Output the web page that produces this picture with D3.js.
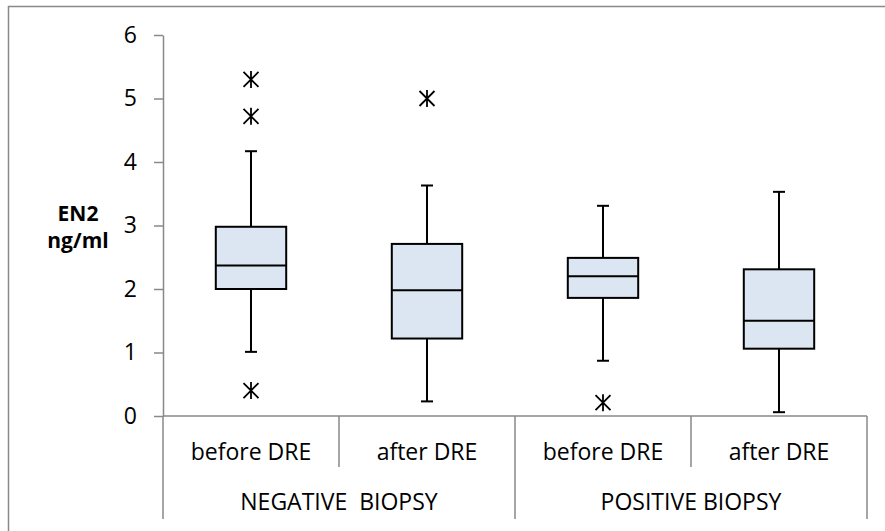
<!DOCTYPE html>
<html>
<head>
<meta charset="utf-8">
<script src="https://cdn.jsdelivr.net/npm/d3@7"></script>
<style>
  html, body { margin: 0; padding: 0; background: #fff; }
  svg { display: block; }
  text { font-family: "Open Sans", sans-serif; fill: #000; }
</style>
</head>
<body>
<svg id="chart" width="885" height="531"></svg>
<script>
// ---- data ----
const categories = ["before DRE", "after DRE", "before DRE", "after DRE"];
const groups = ["NEGATIVE  BIOPSY", "POSITIVE BIOPSY"];
const groupOf = [0, 0, 1, 1];
const whiskerLow  = [1.01, 0.23, 0.87, 0.06];
const q1          = [2.00, 1.22, 1.86, 1.06];
const median      = [2.37, 1.98, 2.20, 1.50];
const q3          = [2.98, 2.71, 2.49, 2.31];
const whiskerHigh = [4.17, 3.63, 3.31, 3.53];
const outliers    = [[5.30, 4.72, 0.40], [5.00], [0.21], []];
const yTicks = [0, 1, 2, 3, 4, 5, 6];
const yTitle = ["EN2", "ng/ml"];

// ---- layout ----
const svg = d3.select("#chart");
const axisColor = "#898989";
const fill = "#dce6f2";

svg.append("rect")
  .attr("x", 8.5).attr("y", 6.5)
  .attr("width", 900).attr("height", 540)
  .attr("fill", "none").attr("stroke", axisColor).attr("stroke-width", 1.5);

const idx = categories.map((d, i) => i);
const x = d3.scaleBand().domain(idx).range([163, 867]).paddingInner(0).paddingOuter(0);
const y = d3.scaleLinear().domain([0, 6]).range([416, 35]);

// y axis
const yAxis = svg.append("g")
  .attr("transform", "translate(163,0)")
  .call(d3.axisLeft(y).tickValues(yTicks).tickSize(9).tickSizeOuter(0).tickPadding(17).tickFormat(d3.format("d")));
yAxis.selectAll("path, line").attr("stroke", axisColor).attr("stroke-width", 1.5);
yAxis.selectAll("text").style("font-size", "23px").style("font-family", "'Open Sans', sans-serif").attr("fill", "#000");

// x axis line
svg.append("line")
  .attr("x1", x.range()[0]).attr("x2", x.range()[1])
  .attr("y1", y(0)).attr("y2", y(0))
  .attr("stroke", axisColor).attr("stroke-width", 1.5);

// dividers
const bounds = idx.map(i => x(i)).concat([x.range()[1]]);
bounds.forEach((bx, k) => {
  const isGroup = (k === 0 || k === bounds.length - 1 || groupOf[k] !== groupOf[k - 1]);
  svg.append("line")
    .attr("x1", bx).attr("x2", bx)
    .attr("y1", y(0)).attr("y2", isGroup ? 519 : 467)
    .attr("stroke", axisColor).attr("stroke-width", 1.5);
});

// category labels
svg.selectAll("text.cat").data(idx).enter().append("text")
  .attr("class", "cat")
  .attr("x", i => x(i) + x.bandwidth() / 2)
  .attr("y", 460)
  .attr("text-anchor", "middle")
  .style("font-size", "23px")
  .text(i => categories[i]);

// group labels
groups.forEach((g, gi) => {
  const members = idx.filter(i => groupOf[i] === gi);
  const x0 = x(members[0]);
  const x1 = x(members[members.length - 1]) + x.bandwidth();
  svg.append("text")
    .attr("x", (x0 + x1) / 2)
    .attr("y", 510)
    .attr("text-anchor", "middle")
    .style("font-size", "23px")
    .style("white-space", "pre")
    .attr("xml:space", "preserve")
    .text(g);
});

// y title
const t = svg.append("text")
  .attr("text-anchor", "middle")
  .style("font-size", "21px")
  .style("font-weight", "bold");
yTitle.forEach((line, k) => {
  t.append("tspan").attr("x", 78).attr("y", 221 + k * 27).text(line);
});

// boxes
const bw = x.bandwidth() * 0.4;
const capW = 12;
const boxes = svg.append("g");
idx.forEach(i => {
  const cx = x(i) + x.bandwidth() / 2;
  const g = boxes.append("g");
  // whiskers
  g.append("line").attr("x1", cx).attr("x2", cx)
    .attr("y1", y(q3[i])).attr("y2", y(whiskerHigh[i]))
    .attr("stroke", "#000").attr("stroke-width", 2);
  g.append("line").attr("x1", cx).attr("x2", cx)
    .attr("y1", y(q1[i])).attr("y2", y(whiskerLow[i]))
    .attr("stroke", "#000").attr("stroke-width", 2);
  g.append("line").attr("x1", cx - capW / 2).attr("x2", cx + capW / 2)
    .attr("y1", y(whiskerHigh[i])).attr("y2", y(whiskerHigh[i]))
    .attr("stroke", "#000").attr("stroke-width", 2);
  g.append("line").attr("x1", cx - capW / 2).attr("x2", cx + capW / 2)
    .attr("y1", y(whiskerLow[i])).attr("y2", y(whiskerLow[i]))
    .attr("stroke", "#000").attr("stroke-width", 2);
  // box
  g.append("rect")
    .attr("x", cx - bw / 2).attr("width", bw)
    .attr("y", y(q3[i])).attr("height", y(q1[i]) - y(q3[i]))
    .attr("fill", fill).attr("stroke", "#000").attr("stroke-width", 2);
  g.append("line").attr("x1", cx - bw / 2).attr("x2", cx + bw / 2)
    .attr("y1", y(median[i])).attr("y2", y(median[i]))
    .attr("stroke", "#000").attr("stroke-width", 2);
  // outliers
  outliers[i].forEach(v => {
    const oy = y(v), s = 7.5;
    const p = `M${cx - s},${oy - s}L${cx + s},${oy + s}M${cx - s},${oy + s}L${cx + s},${oy - s}M${cx},${oy - s - 1}L${cx},${oy + s + 1}`;
    g.append("path").attr("d", p).attr("stroke", "#000").attr("stroke-width", 1.8).attr("fill", "none");
  });
});
</script>
</body>
</html>
